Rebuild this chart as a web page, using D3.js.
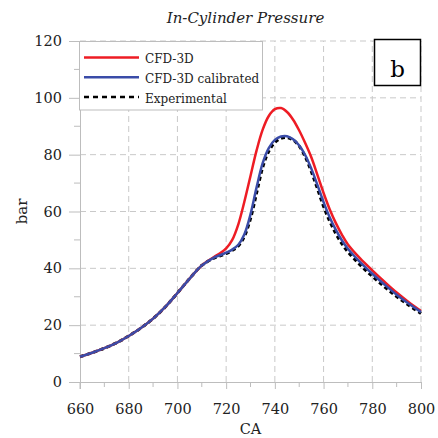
<!DOCTYPE html>
<html>
<head>
<meta charset="utf-8">
<script src="https://cdn.jsdelivr.net/npm/d3@7"></script>
<style>
    body { margin: 0; background: #fff; }
    svg { display: block; font-family: "DejaVu Serif", serif; }
</style>
</head>
<body>
<div id="chart"></div>
<script>
// crank angle (CA) grid shared by all three series
const ca = [660, 665, 670, 675, 680, 685, 690, 695, 700, 705, 710, 715, 717.5, 720, 722.5, 725, 727.5, 730, 732.5, 735, 737.5, 740, 742.5, 745, 747.5, 750, 752.5, 755, 757.5, 760, 762.5, 765, 767.5, 770, 775, 780, 785, 790, 795, 800];

// pressure (bar)
const pRed = [8.9, 10.3, 11.9, 13.8, 16.2, 19.0, 22.3, 26.4, 31.3, 36.4, 41.0, 44.0, 45.3, 47.0, 50.0, 55.5, 63.5, 72.5, 81.5, 88.8, 93.6, 96.0, 96.4, 95.0, 92.3, 88.5, 84.0, 79.0, 72.8, 66.5, 60.8, 56.0, 51.9, 48.4, 43.5, 39.3, 35.3, 31.5, 28.1, 25.0];
const pBlue = [8.9, 10.3, 11.9, 13.8, 16.2, 19.0, 22.3, 26.4, 31.3, 36.4, 41.0, 43.8, 44.6, 45.5, 46.6, 48.3, 52.0, 59.0, 68.5, 77.0, 82.3, 85.2, 86.4, 86.5, 85.4, 83.2, 79.8, 75.0, 69.3, 63.3, 58.0, 53.6, 49.9, 46.9, 42.2, 38.1, 34.3, 30.7, 27.5, 24.6];
const pExp = [8.9, 10.3, 11.9, 13.8, 16.2, 19.0, 22.3, 26.4, 31.3, 36.4, 41.0, 43.6, 44.4, 45.2, 46.3, 47.9, 51.3, 57.5, 66.5, 75.5, 81.2, 84.3, 85.7, 86.0, 85.2, 83.0, 79.2, 74.0, 68.0, 61.8, 56.6, 52.3, 48.7, 45.8, 41.2, 37.2, 33.5, 30.1, 27.0, 24.1];

const xTicks = [660, 680, 700, 720, 740, 760, 780, 800];
const xMinor = [670, 690, 710, 730, 750, 770, 790];
const yTicks = [0, 20, 40, 60, 80, 100, 120];
const yMinor = [10, 30, 50, 70, 90, 110];

const legendItems = [
    {label: "CFD-3D", color: "#ee1c24", dash: null},
    {label: "CFD-3D calibrated", color: "#3a4ca8", dash: null},
    {label: "Experimental", color: "#000", dash: "5,4"}
];

const svg = d3.select("#chart").append("svg")
    .attr("width", 438)
    .attr("height", 438);

// scales
const x = d3.scaleLinear().domain([660, 800]).range([80, 421]);
const y = d3.scaleLinear().domain([0, 120]).range([382, 41]);

// grid lines
const grid = svg.append("g").attr("class", "grid")
    .attr("stroke", "#c9c9c9")
    .attr("stroke-width", 1)
    .attr("stroke-dasharray", "6,4");

grid.selectAll(".vgrid")
    .data(xTicks.slice(1))
    .enter().append("line")
    .attr("x1", d => x(d)).attr("x2", d => x(d))
    .attr("y1", y(0)).attr("y2", y(120));

grid.selectAll(".hgrid")
    .data(yTicks.slice(1))
    .enter().append("line")
    .attr("x1", x(660)).attr("x2", x(800))
    .attr("y1", d => y(d)).attr("y2", d => y(d));

// axes
const xAxis = svg.append("g")
    .attr("transform", "translate(0," + y(0) + ")")
    .call(d3.axisBottom(x).tickValues(xTicks).tickSize(7).tickSizeOuter(0).tickPadding(15));

const yAxis = svg.append("g")
    .attr("transform", "translate(" + x(660) + ",0)")
    .call(d3.axisLeft(y).tickValues(yTicks).tickSize(11).tickSizeOuter(0).tickPadding(7));

[xAxis, yAxis].forEach(a => {
    a.selectAll("path, line").attr("stroke", "#bdbdbd");
    a.selectAll("text")
        .attr("fill", "#222")
        .style("font-family", "DejaVu Serif")
        .style("font-size", "14.5px");
});

// minor ticks
svg.append("g").selectAll("line")
    .data(xMinor)
    .enter().append("line")
    .attr("x1", d => x(d)).attr("x2", d => x(d))
    .attr("y1", y(0)).attr("y2", y(0) + 5)
    .attr("stroke", "#bdbdbd");

svg.append("g").selectAll("line")
    .data(yMinor)
    .enter().append("line")
    .attr("x1", x(660) - 6).attr("x2", x(660))
    .attr("y1", d => y(d)).attr("y2", d => y(d))
    .attr("stroke", "#bdbdbd");

// y axis line runs a bit below the x axis
svg.append("line")
    .attr("x1", x(660)).attr("x2", x(660))
    .attr("y1", y(0)).attr("y2", y(0) + 7)
    .attr("stroke", "#bdbdbd");

// curves
const line = d3.line()
    .x(d => x(d[0]))
    .y(d => y(d[1]))
    .curve(d3.curveCatmullRom.alpha(0.5));

const series = (vals) => ca.map((v, i) => [v, vals[i]]);

svg.append("path")
    .datum(series(pExp))
    .attr("d", line)
    .attr("fill", "none")
    .attr("stroke", "#000")
    .attr("stroke-width", 3)
    .attr("stroke-dasharray", "4,3");

svg.append("path")
    .datum(series(pRed))
    .attr("d", line)
    .attr("fill", "none")
    .attr("stroke", "#ee1c24")
    .attr("stroke-width", 2.5);

svg.append("path")
    .datum(series(pBlue))
    .attr("d", line)
    .attr("fill", "none")
    .attr("stroke", "#3a4ca8")
    .attr("stroke-width", 2.5);

// legend
const legend = svg.append("g").attr("class", "legend");

legend.append("rect")
    .attr("x", 79.5).attr("y", 41.5)
    .attr("width", 183).attr("height", 68.5)
    .attr("fill", "#fff")
    .attr("stroke", "#bdbdbd");

const rows = legend.selectAll(".row")
    .data(legendItems)
    .enter().append("g")
    .attr("transform", (d, i) => "translate(0," + (57.5 + i * 19.8) + ")");

rows.append("line")
    .attr("x1", 84).attr("x2", 139)
    .attr("stroke", d => d.color)
    .attr("stroke-width", 2.5)
    .attr("stroke-dasharray", d => d.dash);

rows.append("text")
    .attr("x", 145)
    .attr("y", 5.5)
    .attr("fill", "#222")
    .style("font-size", "12px")
    .text(d => d.label);

// panel label
svg.append("rect")
    .attr("x", 374.5).attr("y", 39.5)
    .attr("width", 46).attr("height", 46)
    .attr("fill", "#fff")
    .attr("stroke", "#000")
    .attr("stroke-width", 1.5);

svg.append("text")
    .attr("x", 397.5).attr("y", 76.5)
    .attr("text-anchor", "middle")
    .style("font-size", "23px")
    .text("b");

// titles
svg.append("text")
    .attr("x", 245.5).attr("y", 23)
    .attr("text-anchor", "middle")
    .style("font-style", "italic")
    .style("font-size", "15px")
    .attr("fill", "#222")
    .text("In-Cylinder Pressure");

svg.append("text")
    .attr("x", 250.5).attr("y", 434)
    .attr("text-anchor", "middle")
    .style("font-size", "14.5px")
    .attr("fill", "#222")
    .text("CA");

svg.append("text")
    .attr("transform", "translate(27," + y(60) + ") rotate(-90)")
    .attr("text-anchor", "middle")
    .style("font-size", "15px")
    .attr("fill", "#222")
    .text("bar");
</script>
</body>
</html>
